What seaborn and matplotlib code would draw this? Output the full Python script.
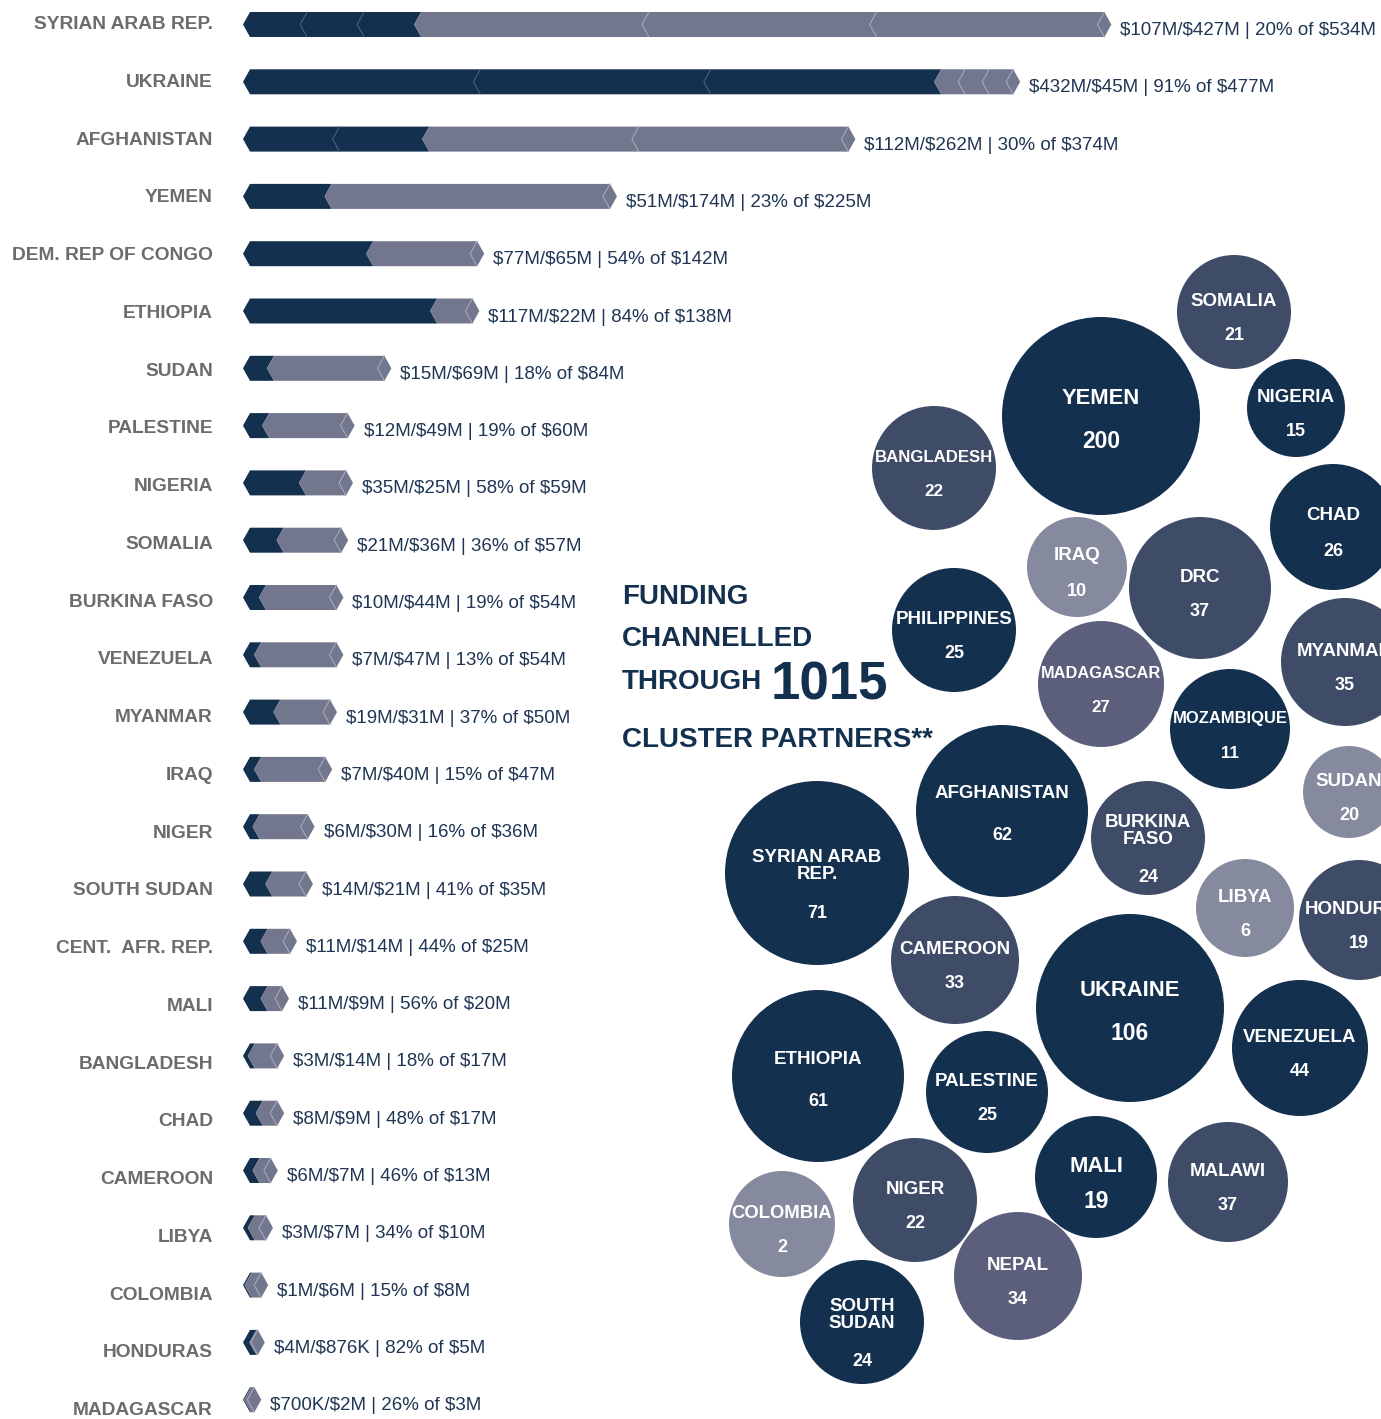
import numpy as np
import pandas as pd
import matplotlib
matplotlib.use("Agg")
import matplotlib.pyplot as plt
import seaborn as sns
from matplotlib.patches import Polygon

# ---- data: funding by country ($M), dark = via cluster partners, grey = rest
countries = ["SYRIAN ARAB REP.", "UKRAINE", "AFGHANISTAN", "YEMEN", "DEM. REP OF CONGO",
             "ETHIOPIA", "SUDAN", "PALESTINE", "NIGERIA", "SOMALIA", "BURKINA FASO",
             "VENEZUELA", "MYANMAR", "IRAQ", "NIGER", "SOUTH SUDAN", "CENT.  AFR. REP.",
             "MALI", "BANGLADESH", "CHAD", "CAMEROON", "LIBYA", "COLOMBIA", "HONDURAS",
             "MADAGASCAR"]
partner_funding = [107, 432, 112, 51, 77, 117, 15, 12, 35, 21, 10, 7, 19, 7, 6, 14, 11,
                   11, 3, 8, 6, 3, 1, 4, 0.7]
other_funding = [427, 45, 262, 174, 65, 22, 69, 49, 25, 36, 44, 47, 31, 40, 30, 21, 14,
                 9, 14, 9, 7, 7, 6, 0.876, 2]
value_labels = ["$107M/$427M | 20% of $534M", "$432M/$45M | 91% of $477M",
                "$112M/$262M | 30% of $374M", "$51M/$174M | 23% of $225M",
                "$77M/$65M | 54% of $142M", "$117M/$22M | 84% of $138M",
                "$15M/$69M | 18% of $84M", "$12M/$49M | 19% of $60M",
                "$35M/$25M | 58% of $59M", "$21M/$36M | 36% of $57M",
                "$10M/$44M | 19% of $54M", "$7M/$47M | 13% of $54M",
                "$19M/$31M | 37% of $50M", "$7M/$40M | 15% of $47M",
                "$6M/$30M | 16% of $36M", "$14M/$21M | 41% of $35M",
                "$11M/$14M | 44% of $25M", "$11M/$9M | 56% of $20M",
                "$3M/$14M | 18% of $17M", "$8M/$9M | 48% of $17M",
                "$6M/$7M | 46% of $13M", "$3M/$7M | 34% of $10M",
                "$1M/$6M | 15% of $8M", "$4M/$876K | 82% of $5M",
                "$700K/$2M | 26% of $3M"]
# number of chevron pieces each part is drawn with
partner_pieces = [3, 3, 2] + [1] * 22
other_pieces = [3, 3, 2] + [1] * 22

# ---- data: cluster partners per country (bubbles)
bubble_names = ["SOMALIA", "YEMEN", "NIGERIA", "BANGLADESH", "CHAD", "IRAQ", "DRC",
                "MYANMAR", "PHILIPPINES", "MADAGASCAR", "MOZAMBIQUE", "SUDAN",
                "AFGHANISTAN", "BURKINA\nFASO", "SYRIAN ARAB\nREP.", "LIBYA", "HONDURAS",
                "CAMEROON", "UKRAINE", "VENEZUELA", "ETHIOPIA", "PALESTINE", "MALI",
                "MALAWI", "COLOMBIA", "NIGER", "NEPAL", "SOUTH\nSUDAN"]
bubble_partners = [21, 200, 15, 22, 26, 10, 37, 35, 25, 27, 11, 20, 62, 24, 71, 6, 19,
                   33, 106, 44, 61, 25, 19, 37, 2, 22, 34, 24]

# ---- bubble layout (pixel positions / radii) and tones
bubble_cx = [1234, 1101, 1296, 934, 1333, 1077, 1200, 1345, 954, 1101, 1230, 1349,
             1002, 1148, 817, 1245, 1359, 955, 1130, 1300, 818, 987, 1096, 1228, 782,
             915, 1018, 862]
bubble_cy = [312, 416, 408, 468, 527, 567, 588, 662, 630, 684, 729, 792, 811, 838, 873,
             908, 920, 960, 1008, 1048, 1076, 1092, 1177, 1182, 1224, 1200, 1276, 1322]
bubble_r = [57, 99, 49, 62, 63, 50, 71, 64, 62, 63, 60, 46, 86, 57, 92, 49, 60, 64, 94,
            68, 86, 61, 61, 60, 53, 62, 64, 62]
bubble_tone = ["slate", "navy", "navy", "slate", "navy", "light", "slate", "slate",
               "navy", "mid", "navy", "light", "navy", "slate", "navy", "light", "slate",
               "slate", "navy", "navy", "navy", "navy", "navy", "slate", "light", "slate",
               "mid", "navy"]
big_labels = ["YEMEN", "UKRAINE", "MALI"]

NAVY = "#14304F"
GREY = "#73778D"
LABEL_GREY = "#6B6C6E"
TEXT_NAVY = "#1F3553"
tone_colors = {"navy": NAVY, "slate": "#3F4C68", "mid": "#5B5F7C", "light": "#868A9F"}

sns.set_theme(style="white")
plt.rcParams["font.family"] = ["Liberation Sans", "DejaVu Sans"]

W, H = 1381, 1419
fig = plt.figure(figsize=(W / 100, H / 100), dpi=100)

# ---- bar panel: x in $M (1.6 px per $M, zero at px 250), y in rows
PX_PER_M = 1.6
X0_PX = 250
ROW_PX = 57.3
ROW0_PX = 24.5
ax = fig.add_axes([0, 0, 1, 1])
ax.set_xlim(-X0_PX / PX_PER_M, (W - X0_PX) / PX_PER_M)
ax.set_ylim((H - ROW0_PX) / ROW_PX, -ROW0_PX / ROW_PX)
ax.axis("off")

notch = 7 / PX_PER_M
half_h = 12.5 / ROW_PX


def chevron(x0, x1, y, color):
    pts = [(x0, y - half_h), (x1, y - half_h), (x1 - notch, y), (x1, y + half_h),
           (x0, y + half_h), (x0 - notch, y)]
    ax.add_patch(Polygon(pts, closed=True, facecolor=color, edgecolor="none", zorder=2))


def notch_line(x, y, color):
    ax.plot([x, x - notch, x], [y - half_h, y, y + half_h], color=color, lw=0.7,
            zorder=3, solid_joinstyle="miter")


for i, (d, g) in enumerate(zip(partner_funding, other_funding)):
    nd, ng = partner_pieces[i], other_pieces[i]
    dark_edges = np.linspace(0, d, nd + 1)
    grey_edges = np.linspace(d, d + g, ng + 1)
    for k in range(nd):
        chevron(dark_edges[k], dark_edges[k + 1], i, NAVY)
    for k in range(ng):
        chevron(grey_edges[k], grey_edges[k + 1], i, GREY)
    c = d + g
    ax.add_patch(Polygon([(c, i - half_h), (c + notch, i), (c, i + half_h), (c - notch, i)],
                         closed=True, facecolor=GREY, edgecolor="none", zorder=2))
    for x in dark_edges[1:-1]:
        notch_line(x, i, "#4A5F7C")
    for x in grey_edges[1:]:
        notch_line(x, i, "#A7AABB")
    ax.text(c + notch + 9 / PX_PER_M, i + 6 / ROW_PX, value_labels[i], ha="left",
            va="center", fontsize=13.5, color=TEXT_NAVY)
    ax.text((213 - X0_PX) / PX_PER_M, i * 1.0079, countries[i], ha="right", va="center",
            fontsize=13.8, fontweight="bold", color=LABEL_GREY)

# ---- bubble panel in pixel coordinates
bx = fig.add_axes([0, 0, 1, 1], facecolor="none")
bubbles = pd.DataFrame({"name": bubble_names, "partners": bubble_partners,
                        "x": bubble_cx, "y": bubble_cy, "r": bubble_r,
                        "tone": bubble_tone})
size_map = {r: (2 * r * 0.72) ** 2 for r in bubbles["r"].unique()}
sns.scatterplot(data=bubbles, x="x", y="y", hue="tone", size="r", sizes=size_map,
                palette=tone_colors, linewidth=0, legend=False, ax=bx, zorder=2)
bx.set_xlim(0, W)
bx.set_ylim(H, 0)
bx.axis("off")

fig.canvas.draw()
renderer = fig.canvas.get_renderer()
for _, row in bubbles.iterrows():
    big = row["name"] in big_labels
    two_line = "\n" in row["name"]
    base = 15.8 if big else 13.5
    t = bx.text(row["x"], 0, row["name"], ha="center", va="center", fontsize=base,
                fontweight="bold", color="white", linespacing=0.95, zorder=4)
    width = t.get_window_extent(renderer).width
    fs = base
    if width > 1.9 * row["r"]:
        fs = base * 1.9 * row["r"] / width
        t.set_fontsize(fs)
    if two_line:
        name_y, num_y = row["y"] - 7, row["y"] + 40
    elif row["r"] >= 80:
        name_y, num_y = row["y"] - 17, row["y"] + 25
    else:
        name_y, num_y = row["y"] - 11, row["y"] + 24
    t.set_y(name_y)
    num_fs = 16.5 if big else min(13, fs + 0.3)
    bx.text(row["x"], num_y, str(row["partners"]), ha="center", va="center",
            fontsize=num_fs, fontweight="bold", color="white", zorder=4)

# ---- headline
title_kw = dict(ha="left", va="center", fontsize=20, fontweight="bold", color=NAVY)
bx.text(622, 597, "FUNDING", **title_kw)
bx.text(622, 639, "CHANNELLED", **title_kw)
bx.text(622, 682, "THROUGH", **title_kw)
bx.text(771, 686, "1015", ha="left", va="center", fontsize=38, fontweight="bold",
        color=NAVY)
bx.text(622, 740, "CLUSTER PARTNERS**", **title_kw)

fig.savefig("out.png", dpi=100)
